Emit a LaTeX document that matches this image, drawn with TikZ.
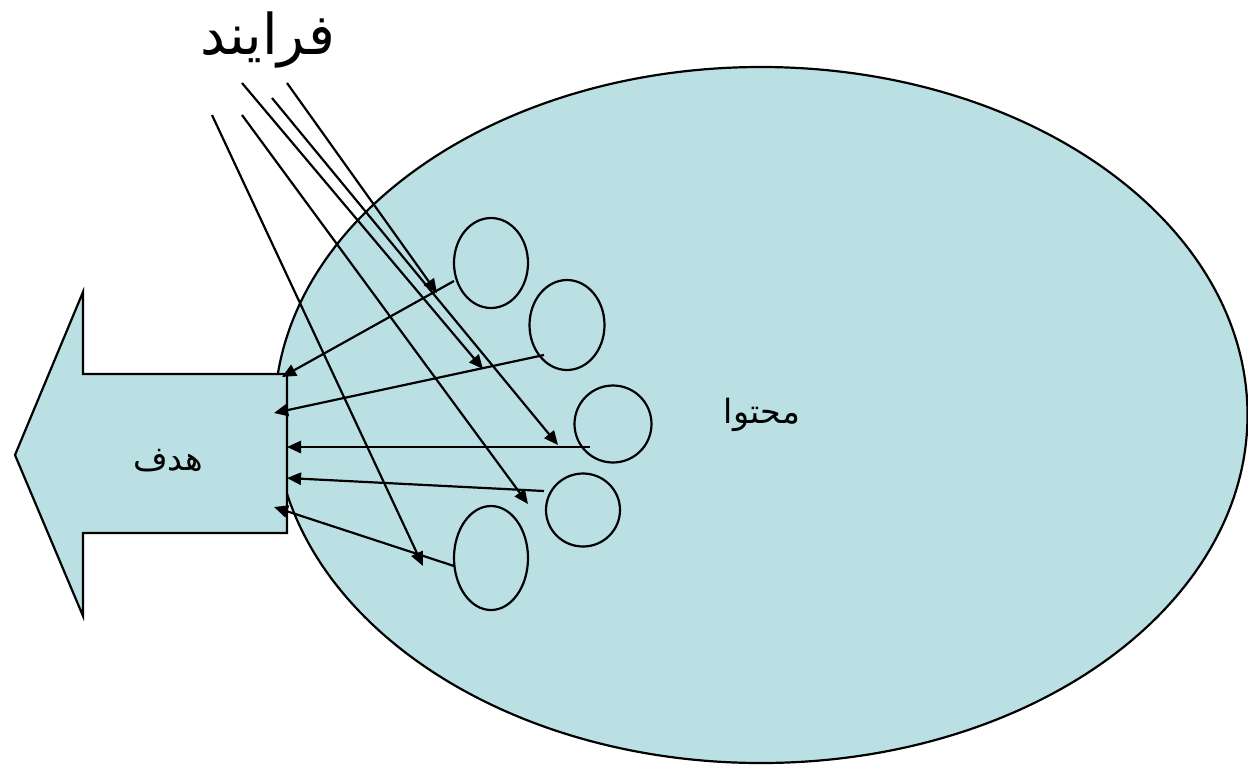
\documentclass[tikz,border=0pt]{standalone}
\usepackage{fontspec}
\usetikzlibrary{shapes.geometric,arrows.meta}
\TeXXeTstate=1
\newfontfamily\arabicfont[Script=Arabic]{DejaVu Sans}
\definecolor{fillc}{RGB}{187,224,227}
\begin{document}
\begin{tikzpicture}[x=0.02cm,y=-0.02cm,
  outl/.style={draw=black,line width=1.25pt},
  blob/.style={ellipse,outl,fill=fillc,inner sep=0pt},
  conn/.style={line width=1.25pt,-{Triangle[length=8pt,width=7pt]}},
  lbl/.style={font=\arabicfont\fontsize{19}{22}\selectfont}]
\useasboundingbox (0,0) rectangle (1248,765);
% big ellipse
\node[blob,minimum width=973*0.02cm,minimum height=696*0.02cm] (content) at (761,415) {};
% left arrow
\draw[outl,fill=fillc,line join=miter] (15,455) -- (83,292) -- (83,374) -- (287,374) -- (287,533) -- (83,533) -- (83,616) -- cycle;
\node[lbl] (goal) at (168,461) {\beginR هدف\endR};
\node[lbl] (contentlbl) at (762,415) {\beginR محتوا\endR};
\node[font=\arabicfont\fontsize{32}{36}\selectfont] (process) at (268,40) {\beginR فرایند\endR};
% small ellipses
\node[blob,minimum width=74*0.02cm,minimum height=90*0.02cm] (e1) at (491,263) {};
\node[blob,minimum width=75*0.02cm,minimum height=90*0.02cm] (e2) at (567,325) {};
\node[blob,minimum width=77*0.02cm,minimum height=77*0.02cm] (e3) at (613,424) {};
\node[blob,minimum width=74*0.02cm,minimum height=73*0.02cm] (e4) at (583,510) {};
\node[blob,minimum width=74*0.02cm,minimum height=104*0.02cm] (e5) at (491,558) {};
% connector end points
\coordinate (s1) at (454,281); \coordinate (t1) at (282,377);
\coordinate (s2) at (544,355); \coordinate (t2) at (274,413);
\coordinate (s3) at (590,447); \coordinate (t3) at (287,447);
\coordinate (s4) at (544,491); \coordinate (t4) at (287,478);
\coordinate (s5) at (454,566); \coordinate (t5) at (274,507);
\draw[conn] (s1) -- (t1);
\draw[conn] (s2) -- (t2);
\draw[conn] (s3) -- (t3);
\draw[conn] (s4) -- (t4);
\draw[conn] (s5) -- (t5);
% lines from process
\coordinate (p1) at (287,83);  \coordinate (q1) at (437,293);
\coordinate (p2) at (272,98);  \coordinate (q2) at (558,445);
\coordinate (p3) at (242,83);  \coordinate (q3) at (483,369);
\coordinate (p4) at (242,115); \coordinate (q4) at (528,504);
\coordinate (p5) at (212,115); \coordinate (q5) at (423,566);
\draw[conn] (p1) -- (q1);
\draw[conn] (p2) -- (q2);
\draw[conn] (p3) -- (q3);
\draw[conn] (p4) -- (q4);
\draw[conn] (p5) -- (q5);
\end{tikzpicture}
\end{document}
